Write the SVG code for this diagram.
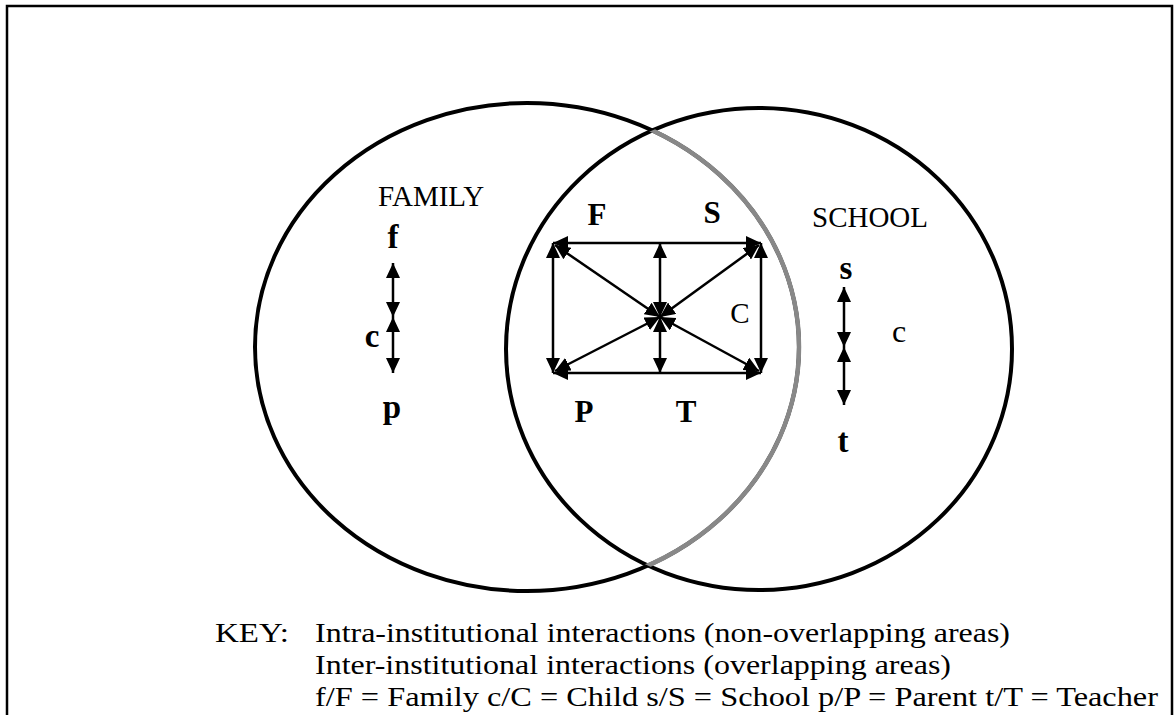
<svg xmlns="http://www.w3.org/2000/svg" width="1176" height="715" viewBox="0 0 1176 715">
<style>
.t{font-family:"Liberation Serif","Times New Roman",serif;fill:#000}
.b{font-weight:bold}
.k{font-size:28px}
.ar{stroke:#000;stroke-width:2.5;fill:none;marker-start:url(#ah);marker-end:url(#ah)}
.ell{fill:none;stroke:#000;stroke-width:4}
</style>
<defs>
<marker id="ah" markerUnits="userSpaceOnUse" markerWidth="16" markerHeight="14" viewBox="0 0 16 14" refX="15" refY="7" orient="auto-start-reverse">
<path d="M0,0 L15,7 L0,14 Z" fill="#000"/>
</marker>
<clipPath id="inRight"><ellipse cx="759" cy="349" rx="253" ry="241"/></clipPath>
</defs>
<rect x="7" y="6" width="1165" height="730" fill="#fff" stroke="#000" stroke-width="2.5"/>
<g id="family">
<ellipse class="ell" cx="527" cy="347" rx="272" ry="244"/>
<text class="t" x="378" y="206" font-size="29">FAMILY</text>
<text class="t b" x="393" y="248" font-size="33" text-anchor="middle">f</text>
<text class="t b" x="372" y="347" font-size="33" text-anchor="middle">c</text>
<text class="t b" x="392" y="418" font-size="33" text-anchor="middle">p</text>
</g>
<g id="school">
<ellipse class="ell" cx="759" cy="349" rx="253" ry="241"/>
<text class="t" x="812" y="227" font-size="29">SCHOOL</text>
<text class="t b" x="846" y="279" font-size="33" text-anchor="middle">s</text>
<text class="t" x="899" y="342" font-size="32" text-anchor="middle">c</text>
<text class="t b" x="843" y="452" font-size="33" text-anchor="middle">t</text>
</g>
<g id="overlap-arc">
<ellipse cx="527" cy="347" rx="272" ry="244" fill="none" stroke="#888" stroke-width="4.5" clip-path="url(#inRight)"/>
</g>
<g id="overlap">
<text class="t b" x="597" y="225" font-size="31" text-anchor="middle">F</text>
<text class="t b" x="712" y="223" font-size="31" text-anchor="middle">S</text>
<text class="t" x="740" y="323" font-size="29" text-anchor="middle">C</text>
<text class="t b" x="584" y="422" font-size="31" text-anchor="middle">P</text>
<text class="t b" x="686" y="422" font-size="31" text-anchor="middle">T</text>
</g>
<g id="connectors">
<line class="ar" x1="553" y1="243" x2="761" y2="243"/>
<line class="ar" x1="553" y1="373" x2="761" y2="373"/>
<line class="ar" x1="553" y1="243" x2="553" y2="373"/>
<line class="ar" x1="761" y1="243" x2="761" y2="373"/>
<line class="ar" x1="660" y1="317" x2="660" y2="243"/>
<line class="ar" x1="660" y1="317" x2="660" y2="373"/>
<line class="ar" x1="660" y1="317" x2="555" y2="245"/>
<line class="ar" x1="660" y1="317" x2="759" y2="245"/>
<line class="ar" x1="660" y1="317" x2="555" y2="371"/>
<line class="ar" x1="660" y1="317" x2="759" y2="371"/>
<line class="ar" x1="393" y1="263" x2="393" y2="317"/>
<line class="ar" x1="393" y1="317" x2="393" y2="373"/>
<line class="ar" x1="844" y1="287" x2="844" y2="347"/>
<line class="ar" x1="844" y1="347" x2="844" y2="405"/>
</g>
<g id="key">
<text class="t k" x="215" y="642" textLength="74" lengthAdjust="spacingAndGlyphs">KEY:</text>
<text class="t k" x="315" y="642" textLength="695" lengthAdjust="spacingAndGlyphs">Intra-institutional interactions (non-overlapping areas)</text>
<text class="t k" x="315" y="674" textLength="636" lengthAdjust="spacingAndGlyphs">Inter-institutional interactions (overlapping areas)</text>
<text class="t k" x="315" y="706" textLength="843" lengthAdjust="spacingAndGlyphs">f/F = Family c/C = Child s/S = School p/P = Parent t/T = Teacher</text>
</g>
</svg>
